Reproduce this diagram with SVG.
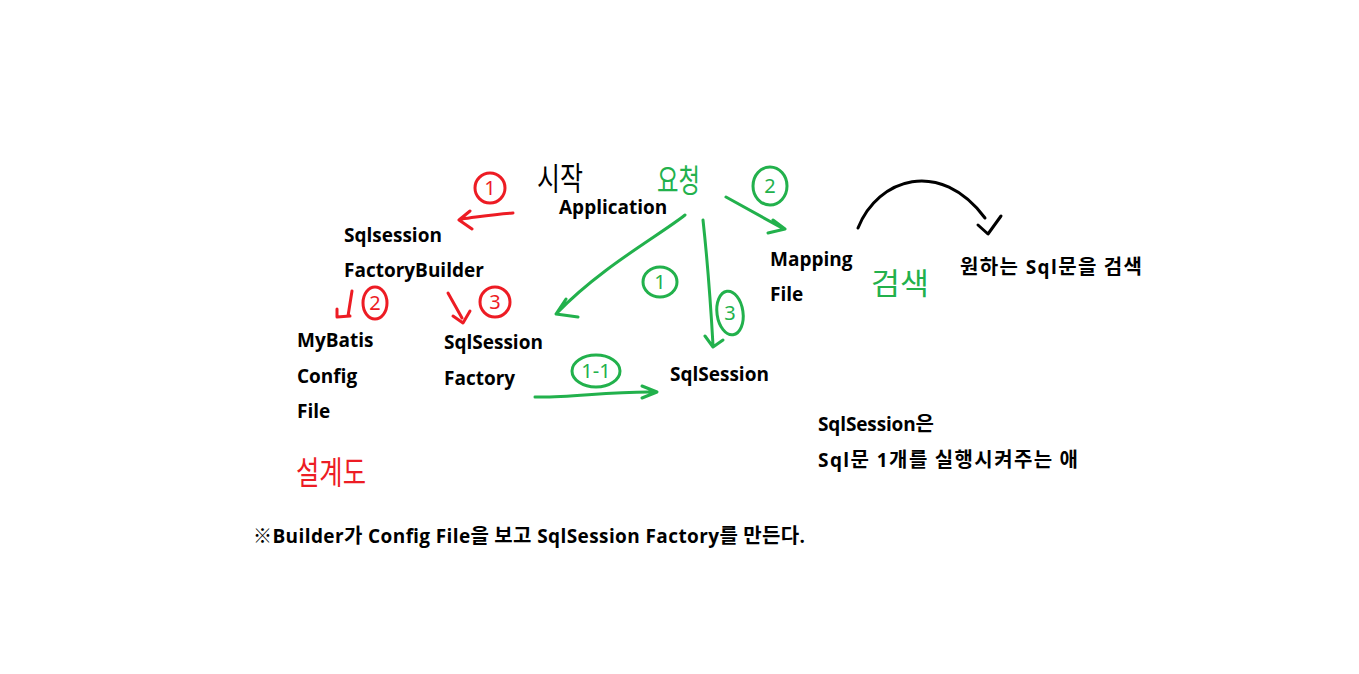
<svg xmlns="http://www.w3.org/2000/svg" width="1359" height="674" viewBox="0 0 1359 674">
<style>
.t{font-family:"Open Sans","Noto Sans CJK KR",sans-serif;font-weight:700;font-size:19px;fill:#000}
.kr{font-family:"Noto Sans CJK KR",sans-serif;font-size:20px}
.h{font-family:"Noto Sans CJK KR",sans-serif;font-weight:400}
.r{stroke:#ED1C24;fill:none;stroke-width:3;stroke-linecap:round;stroke-linejoin:round}
.g{stroke:#22B14C;fill:none;stroke-width:3;stroke-linecap:round;stroke-linejoin:round}
.k{stroke:#000;fill:none;stroke-width:3;stroke-linecap:round;stroke-linejoin:round}
.nr{font-family:"Noto Sans",sans-serif;font-size:20px;fill:#ED1C24;text-anchor:middle}
.ng{font-family:"Noto Sans",sans-serif;font-size:20px;fill:#22B14C;text-anchor:middle}
</style>
<rect width="1359" height="674" fill="#fff"/>
<g id="application">
<text class="t" x="559" y="214">Application</text>
<text class="h" x="537" y="190" font-size="32" fill="#000" textLength="46" lengthAdjust="spacingAndGlyphs">시작</text>
</g>
<g id="request-label"><text class="h" x="657" y="192" font-size="32" fill="#22B14C" textLength="43" lengthAdjust="spacingAndGlyphs">요청</text></g>
<g id="sqlsession-factorybuilder">
<text class="t" x="344" y="242">Sqlsession</text>
<text class="t" x="344" y="277">FactoryBuilder</text>
</g>
<g id="mybatis-config">
<text class="t" x="297" y="347">MyBatis</text>
<text class="t" x="297" y="383">Config</text>
<text class="t" x="297" y="418">File</text>
<text class="h" x="296" y="484" font-size="32" fill="#ED1C24" textLength="70" lengthAdjust="spacingAndGlyphs">설계도</text>
</g>
<g id="sqlsession-factory">
<text class="t" x="444" y="349">SqlSession</text>
<text class="t" x="444" y="385">Factory</text>
</g>
<g id="sqlsession">
<text class="t" x="670" y="381">SqlSession</text>
</g>
<g id="mapping-file">
<text class="t" x="770" y="266">Mapping</text>
<text class="t" x="770" y="301">File</text>
<text class="h" x="871" y="294" font-size="30" fill="#22B14C" textLength="58" lengthAdjust="spacingAndGlyphs">검색</text>
</g>
<g id="search-note"><text class="t" x="960" y="274" textLength="182" lengthAdjust="spacing"><tspan class="kr">원하는</tspan> Sql<tspan class="kr">문을 검색</tspan></text></g>
<g id="sqlsession-note">
<text class="t" x="818" y="431" textLength="116" lengthAdjust="spacing">SqlSession<tspan class="kr">은</tspan></text>
<text class="t" x="818" y="467" textLength="260" lengthAdjust="spacing">Sql<tspan class="kr">문</tspan> 1<tspan class="kr">개를 실행시켜주는 애</tspan></text>
</g>
<g id="footer-note"><text class="t" x="253" y="543" textLength="552" lengthAdjust="spacing">※Builder<tspan class="kr">가</tspan> Config File<tspan class="kr">을 보고</tspan> SqlSession Factory<tspan class="kr">를 만든다</tspan>.</text></g>
<g id="connectors">
<path class="r" d="M513,213 C495,214 478,217 462,219 M470,211 L459,220 L472,229"/>
<path class="r" d="M352,291 L348,316 M337,309 L337,317 L350,316"/>
<path class="r" d="M448,293 L462,318 M453,316 L463,323 L470,311"/>
<path class="g" d="M685,215 C660,235 600,268 557,313 M566,299 L556,314 L578,317"/>
<path class="g" d="M703,220 Q709,275 713,345 M705,336 L713,347 L723,340"/>
<path class="g" d="M726,197 L782,228 M773,220 L785,229 L768,233"/>
<path class="g" d="M535,397 C570,398 610,391 656,392 M642,386 L657,392 L642,398"/>
<path class="k" d="M858,228 C878,178 940,158 985,218 M978,225 L988,234 L1001,216"/>
</g>
<g id="step-marks">
<ellipse class="r" cx="490" cy="188" rx="15" ry="15"/><text class="nr" x="490" y="195">1</text>
<ellipse class="r" cx="375" cy="303" rx="12" ry="16"/><text class="nr" x="375" y="310">2</text>
<ellipse class="r" cx="495" cy="302" rx="15" ry="15"/><text class="nr" x="495" y="309">3</text>
<ellipse class="g" cx="770" cy="186" rx="17" ry="19"/><text class="ng" x="770" y="193">2</text>
<ellipse class="g" cx="660" cy="282" rx="17" ry="15"/><text class="ng" x="660" y="289">1</text>
<ellipse class="g" cx="730" cy="313" rx="13" ry="22" transform="rotate(-8 730 313)"/><text class="ng" x="730" y="320">3</text>
<ellipse class="g" cx="596" cy="371" rx="24" ry="16"/><text class="ng" x="596" y="378">1-1</text>
</g>
</svg>
